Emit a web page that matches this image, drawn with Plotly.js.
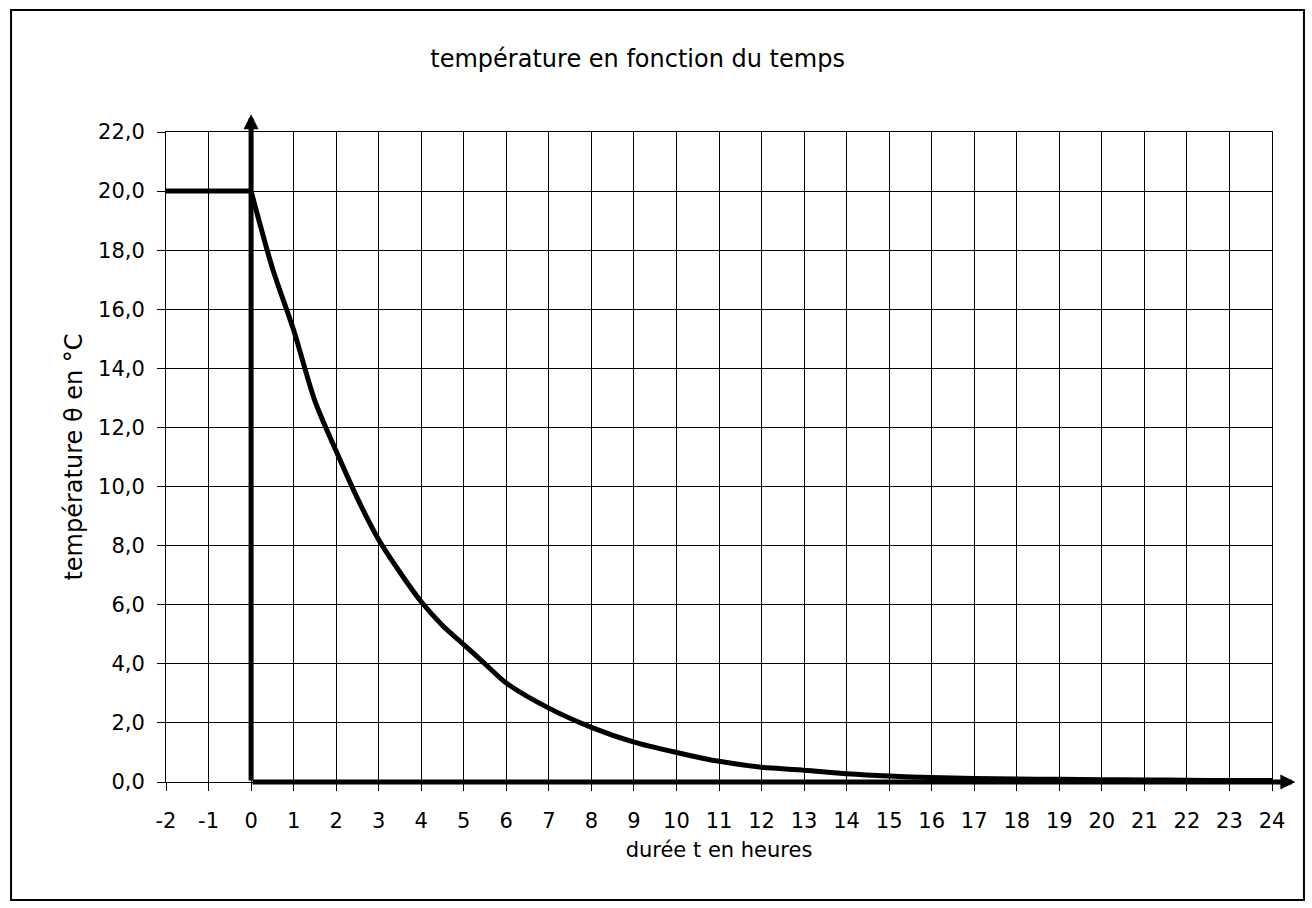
<!DOCTYPE html>
<html>
<head>
<meta charset="utf-8">
<script src="https://cdn.plot.ly/plotly-3.0.1.min.js"></script>
<style>
  html, body { margin: 0; padding: 0; background: #ffffff; }
  #chart { width: 1312px; height: 908px; }
</style>
</head>
<body>
<div id="chart"></div>
<script>
// Data
const dureeHeures = [-2, -1, 0, 0.5, 1, 1.5, 2, 2.5, 3, 3.5, 4, 4.5, 5, 5.5, 6, 7, 8, 9, 10, 11, 12, 13, 14, 15, 16, 17, 18, 19, 20, 21, 22, 23, 24];
const temperature = [20, 20, 20, 17.4, 15.3, 12.9, 11.2, 9.6, 8.2, 7.1, 6.1, 5.3, 4.65, 4.0, 3.35, 2.5, 1.85, 1.35, 1.0, 0.7, 0.5, 0.4, 0.28, 0.2, 0.15, 0.12, 0.1, 0.09, 0.08, 0.07, 0.06, 0.05, 0.05];
const xTickValues = [-2, -1, 0, 1, 2, 3, 4, 5, 6, 7, 8, 9, 10, 11, 12, 13, 14, 15, 16, 17, 18, 19, 20, 21, 22, 23, 24];
const yTickValues = [0, 2, 4, 6, 8, 10, 12, 14, 16, 18, 20, 22];

const chartTitle = 'température en fonction du temps';
const xTitle = 'durée t en heures';
const yTitle = 'température θ en °C';

const FONT = 'Verdana, "DejaVu Sans", sans-serif';

// before t = 0 (constant) and after t = 0 (cooling), same series split at t = 0
const i0 = dureeHeures.indexOf(0);

const traceAvant = {
  x: dureeHeures.slice(0, i0 + 1),
  y: temperature.slice(0, i0 + 1),
  type: 'scatter',
  mode: 'lines',
  line: { color: '#000000', width: 5 },
  hoverinfo: 'x+y',
  showlegend: false
};

const traceApres = {
  x: dureeHeures.slice(i0),
  y: temperature.slice(i0),
  type: 'scatter',
  mode: 'lines',
  line: { color: '#000000', width: 5, shape: 'spline', smoothing: 0.8 },
  hoverinfo: 'x+y',
  showlegend: false
};

const layout = {
  width: 1312,
  height: 908,
  paper_bgcolor: '#ffffff',
  plot_bgcolor: '#ffffff',
  margin: { l: 166, r: 40, t: 132, b: 126 },
  separators: ', ',
  font: { family: FONT, color: '#000000', size: 20 },
  title: {
    text: chartTitle,
    font: { family: FONT, size: 24, color: '#000000' },
    xref: 'container', x: 0.486, xanchor: 'center',
    yref: 'container', y: 0.936, yanchor: 'middle'
  },
  xaxis: {
    range: [-2, 24],
    tickmode: 'array',
    tickvals: xTickValues,
    ticktext: xTickValues.map(String),
    ticks: 'outside', ticklen: 8, tickcolor: '#000000', tickwidth: 1,
    ticklabelstandoff: 12,
    tickfont: { family: FONT, size: 21, color: '#000000' },
    showgrid: true, gridcolor: '#000000', gridwidth: 1,
    showline: true, linecolor: '#000000', linewidth: 1, mirror: true,
    zeroline: false,
    title: { text: xTitle, font: { family: FONT, size: 21, color: '#000000' }, standoff: 10 }
  },
  yaxis: {
    range: [0, 22],
    tickmode: 'array',
    tickvals: yTickValues,
    tickformat: '.1f',
    ticks: 'outside', ticklen: 8, tickcolor: '#000000', tickwidth: 1,
    ticklabelstandoff: 8,
    tickfont: { family: FONT, size: 21, color: '#000000' },
    showgrid: true, gridcolor: '#000000', gridwidth: 1,
    showline: true, linecolor: '#000000', linewidth: 1, mirror: true,
    zeroline: false,
    title: { text: yTitle, font: { family: FONT, size: 24, color: '#000000' }, standoff: 8 }
  },
  annotations: [
    // thick horizontal axis with arrow
    { x: 24.55, y: 0, ax: 0, ay: 0, xref: 'x', yref: 'y', axref: 'x', ayref: 'y',
      text: '', showarrow: true, arrowhead: 2, arrowsize: 0.6, arrowwidth: 5, arrowcolor: '#000000', standoff: 0 },
    // thick vertical axis with arrow
    { x: 0, y: 22.6, ax: 0, ay: 0, xref: 'x', yref: 'y', axref: 'x', ayref: 'y',
      text: '', showarrow: true, arrowhead: 2, arrowsize: 0.6, arrowwidth: 5, arrowcolor: '#000000', standoff: 0 }
  ],
  shapes: [
    { type: 'rect', xref: 'paper', yref: 'paper',
      x0: -0.1401, x1: 1.0289, y0: -0.1815, y1: 1.1877,
      line: { color: '#000000', width: 2 }, fillcolor: 'rgba(0,0,0,0)', layer: 'above' }
  ]
};

Plotly.newPlot('chart', [traceAvant, traceApres], layout, { displayModeBar: false, staticPlot: true });
</script>
</body>
</html>
